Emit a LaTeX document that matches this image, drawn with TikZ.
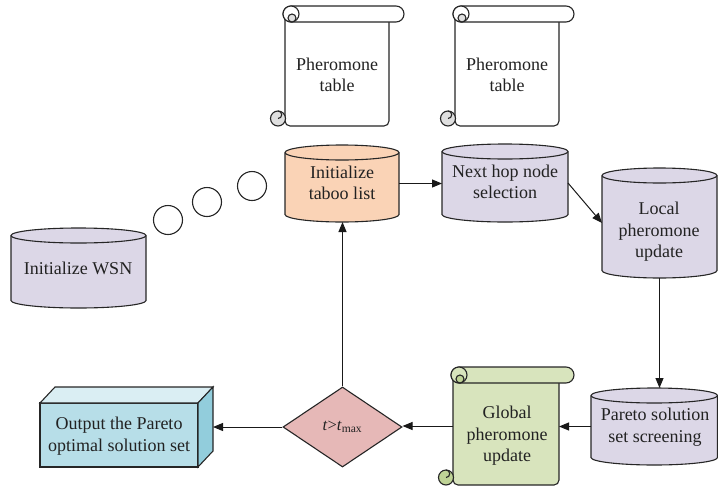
\documentclass[tikz,border=0pt]{standalone}
\usepackage{fontspec}
\setmainfont{Liberation Serif}
\usetikzlibrary{arrows.meta,shapes.geometric}
\definecolor{purp}{HTML}{DCD7E7}
\definecolor{orng}{HTML}{FAD3B6}
\definecolor{grn}{HTML}{D8E4BD}
\definecolor{grndk}{HTML}{BFD396}
\definecolor{diaf}{HTML}{E6B8B7}
\definecolor{outfront}{HTML}{B7DEE8}
\definecolor{outtop}{HTML}{DAEEF3}
\definecolor{outside}{HTML}{92CDDC}
\definecolor{txt}{HTML}{222222}
\tikzset{
  outl/.style={draw=black!85, line width=1.1pt},
  arr/.style={draw=black!90, line width=1pt, -{Triangle[length=10pt,width=8pt]}},
  lbl/.style={align=center, font=\fontsize{18}{21.5}\selectfont, inner sep=0, text=txt},
  box/.style={inner sep=0, outer sep=0, draw=none},
}
\newcommand\mycyl[6]{%
  \pgfmathsetmacro\myrx{(#4-#2)/2}%
  \filldraw[outl, fill=#6] (#2,#3+7.5) -- (#2,#5-7.5) arc[start angle=180,end angle=0,x radius=\myrx,y radius=7.5] -- (#4,#3+7.5) arc[start angle=0,end angle=-180,x radius=\myrx,y radius=7.5] -- cycle;
  \draw[outl] (#2,#3+7.5) arc[start angle=180,end angle=0,x radius=\myrx,y radius=7.5];
  \node[box, minimum width={(#4-#2)*1pt}, minimum height={(#5-#3)*1pt}] (#1) at ({(#2+#4)/2},{(#3+#5)/2}) {};
}
\newcommand\myscroll[7]{%
  \filldraw[outl, fill=#6, rounded corners=5] (#2,#3+8) -- (#2,#5) -- (#4,#5) -- (#4,#3+8);
  \filldraw[outl, fill=#7] (#2-7,#5-7.5) circle[radius=7.5];
  \draw[outl] (#2-7,#5-7.5) arc[start angle=90,end angle=-90,radius=3.75];
  \filldraw[outl, fill=#6, rounded corners=8] (#2-2,#3) rectangle (#4+15,#3+16);
  \filldraw[outl, fill=#6] (#2+6,#3+8) circle[radius=8];
  \filldraw[outl, fill=#7] (#2+7,#3+12) circle[radius=4];
  \node[box, minimum width={(#4-#2)*1pt}, minimum height={(#5-#3)*1pt}] (#1) at ({(#2+#4)/2},{(#3+#5)/2}) {};
}
\begin{document}
\begin{tikzpicture}[x=1pt,y=-1pt]
\useasboundingbox (0,0) rectangle (718,488);
% scrolls
\myscroll{ptA}{285}{6}{389}{126}{white}{gray!25}
\myscroll{ptB}{455}{6}{559}{126}{white}{gray!25}
\myscroll{glob}{453}{367}{559}{485}{grn}{grndk}
\node[lbl] (ptAt) at (337,75) {Pheromone\\table};
\node[lbl] (ptBt) at (507,75) {Pheromone\\table};
\node[lbl] (globt) at (507,436) {Global\\pheromone\\update};
% cylinders
\mycyl{tab}{285}{145}{399}{222}{orng}
\mycyl{nxt}{442}{144}{568}{222}{purp}
\mycyl{loc}{602}{168}{717}{278}{purp}
\mycyl{wsn}{11}{228}{146}{308}{purp}
\mycyl{par}{591}{388}{717.5}{465}{purp}
\node[lbl] (tabt) at (342,183) {Initialize\\taboo list};
\node[lbl] (nxtt) at (505,182) {Next hop node\\selection};
\node[lbl] (loct) at (659,232) {Local\\pheromone\\update};
\node[lbl] (wsnt) at (78,268) {Initialize WSN};
\node[lbl] (part) at (655,427) {Pareto solution\\set screening};
% circles
\node[circle, outl, minimum size=29pt, inner sep=0] (c1) at (168,220) {};
\node[circle, outl, minimum size=29pt, inner sep=0] (c2) at (207,202) {};
\node[circle, outl, minimum size=29pt, inner sep=0] (c3) at (252,186) {};
% output box
\filldraw[outl, fill=outfront] (40,403) rectangle (198,467);
\filldraw[outl, fill=outtop] (40,403) -- (55,387) -- (213,387) -- (198,403) -- cycle;
\filldraw[outl, fill=outside] (198,403) -- (213,387) -- (213,451) -- (198,467) -- cycle;
\node[box, minimum width=173pt, minimum height=80pt] (out) at (126.5,427) {};
\node[lbl] (outt) at (119,436) {Output the Pareto\\optimal solution set};
% decision
\node[diamond, outl, fill=diaf, minimum width=119pt, minimum height=80pt, inner sep=0, text=txt] (dec) at (342.5,427) {\fontsize{16.5}{19}\selectfont\textit{t}>\textit{t}\textsubscript{max}};
% connectors
\draw[arr] (tab.east) -- (tab.east -| nxt.west);
\draw[arr] (nxt.east) -- (loc.west);
\draw[arr] (loc.south) -- (loc.south |- par.north);
\draw[arr] (par.west) -- (par.west -| glob.east);
\draw[arr] (glob.west) -- (glob.west -| dec.east);
\draw[arr] (dec.west) -- (dec.west -| out.east);
\draw[arr] (dec.north) -- (dec.north |- tab.south);
\end{tikzpicture}
\end{document}
